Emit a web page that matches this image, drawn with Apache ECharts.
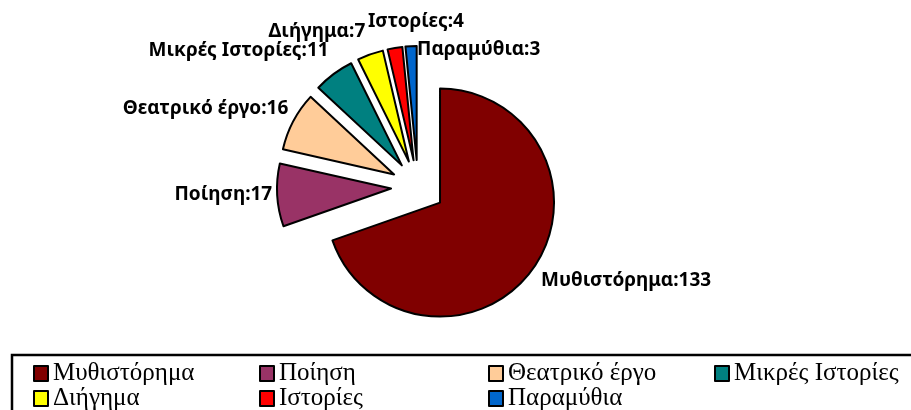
<!DOCTYPE html>
<html>
<head>
<meta charset="utf-8">
<script src="https://cdn.jsdelivr.net/npm/echarts@6/dist/echarts.min.js"></script>
<style>
html, body { margin: 0; padding: 0; background: #fff; }
#chart { width: 911px; height: 410px; }
</style>
</head>
<body>
<div id="chart"></div>
<script>
const categories = ['Μυθιστόρημα', 'Ποίηση', 'Θεατρικό έργο', 'Μικρές Ιστορίες', 'Διήγημα', 'Ιστορίες', 'Παραμύθια']
const counts = [133, 17, 16, 11, 7, 4, 3]
const colors = ['#800000', '#993366', '#FFCC99', '#008080', '#FFFF00', '#FF0000', '#0066CC']

// legend columns as in the original (two rows, four columns)
const legendColumns = [
    ['Μυθιστόρημα', 'Διήγημα'],
    ['Ποίηση', 'Ιστορίες'],
    ['Θεατρικό έργο', 'Παραμύθια'],
    ['Μικρές Ιστορίες']
]
const legendLeft = [33, 259, 488, 714]

// small nudges so the labels sit where the spreadsheet put them
const labelNudge = [
    { dx: 3, dy: 12 },
    { dx: 0, dy: -1 },
    { dx: 0, dy: -13 },
    { dx: 0, dy: -23 },
    { dx: 0, dy: -23 },
    { dx: -22, dy: -26, align: 'left' },
    { dx: 11, dy: 3, align: 'left' }
]

const chart = echarts.init(document.getElementById('chart'))

const pieData = categories.map((name, i) => ({
    name: name,
    value: counts[i],
    selected: true,
    itemStyle: { color: colors[i] }
}))

const legends = legendColumns.map((col, i) => ({
    orient: 'vertical',
    left: legendLeft[i],
    top: 361,
    height: 80,
    padding: 0,
    itemWidth: 14,
    itemHeight: 15,
    itemGap: 0,
    icon: 'rect',
    selectedMode: false,
    textStyle: {
        fontFamily: 'Liberation Serif',
        fontSize: 25,
        lineHeight: 20,
        color: '#000'
    },
    itemStyle: { borderColor: '#000', borderWidth: 2 },
    data: col
}))

chart.setOption({
    animation: false,
    graphic: [{
        type: 'rect',
        shape: { x: 12, y: 355, width: 920, height: 70 },
        style: { fill: 'none', stroke: '#000', lineWidth: 2.5 }
    }],
    legend: legends,
    series: [{
        type: 'pie',
        center: [418, 187],
        radius: 114,
        startAngle: 90,
        clockwise: true,
        selectedMode: 'multiple',
        selectedOffset: 27,
        avoidLabelOverlap: false,
        itemStyle: { borderColor: '#000', borderWidth: 2 },
        label: {
            show: true,
            position: 'outside',
            formatter: '{b}:{c}',
            fontFamily: 'Noto Sans',
            fontWeight: 'bold',
            fontSize: 19,
            color: '#000'
        },
        labelLine: { show: false, length: 0, length2: 0 },
        labelLayout: function (params) {
            const n = labelNudge[params.dataIndex]
            const out = { dx: n.dx, dy: n.dy, hideOverlap: false }
            if (n.align) out.align = n.align
            return out
        },
        emphasis: { disabled: true },
        data: pieData
    }]
})
</script>
</body>
</html>
